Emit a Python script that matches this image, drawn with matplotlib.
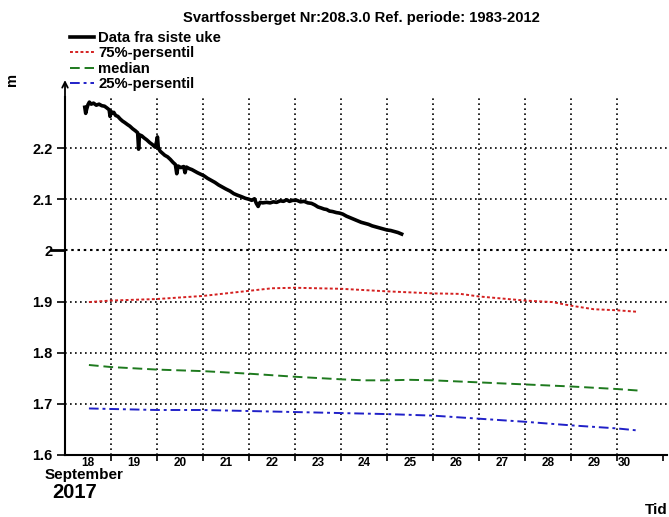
import matplotlib.pyplot as plt

plt.rcParams['font.family'] = ['Liberation Sans', 'DejaVu Sans']

# x = days since 18 September 2017 00:00
DAY_LABELS = ['18', '19', '20', '21', '22', '23', '24', '25', '26', '27', '28', '29', '30']
Y_TICKS = [1.6, 1.7, 1.8, 1.9, 2.0, 2.1, 2.2]

obs_x = [0.43, 0.45, 0.47, 0.50, 0.53, 0.57, 0.62, 0.68, 0.74, 0.80, 0.86, 0.92, 0.96, 0.98,
         1.00, 1.03, 1.06, 1.10, 1.15, 1.20, 1.25, 1.30, 1.36, 1.41, 1.47, 1.53, 1.58, 1.60,
         1.62, 1.67, 1.72, 1.78, 1.84, 1.90, 1.96, 1.99, 2.01, 2.03, 2.07, 2.12, 2.17, 2.23,
         2.29, 2.35, 2.40, 2.43, 2.46, 2.52, 2.58, 2.61, 2.64, 2.70, 2.76, 2.82, 2.88, 2.95,
         3.02, 3.10, 3.18, 3.26, 3.34, 3.42, 3.50, 3.59, 3.67, 3.75, 3.84, 3.92, 4.00, 4.06,
         4.12, 4.16, 4.20, 4.24, 4.30, 4.38, 4.46, 4.53, 4.60, 4.68, 4.75, 4.82, 4.88, 4.95,
         5.04, 5.12, 5.20, 5.28, 5.36, 5.43, 5.50, 5.57, 5.63, 5.69, 5.75, 5.82, 5.90, 5.97,
         6.04, 6.12, 6.20, 6.28, 6.36, 6.44, 6.52, 6.60, 6.68, 6.76, 6.84, 6.92, 7.00, 7.08,
         7.16, 7.24, 7.32]
obs_y = [2.280, 2.268, 2.276, 2.285, 2.290, 2.286, 2.288, 2.284, 2.286, 2.283, 2.282, 2.278,
         2.275, 2.262, 2.272, 2.268, 2.270, 2.264, 2.262, 2.257, 2.253, 2.250, 2.246, 2.243,
         2.238, 2.234, 2.230, 2.198, 2.226, 2.224, 2.220, 2.216, 2.211, 2.207, 2.202, 2.212,
         2.222, 2.200, 2.194, 2.190, 2.186, 2.183, 2.178, 2.172, 2.168, 2.150, 2.165, 2.162,
         2.164, 2.152, 2.163, 2.160, 2.158, 2.155, 2.152, 2.149, 2.146, 2.141, 2.137, 2.133,
         2.128, 2.124, 2.120, 2.116, 2.111, 2.108, 2.105, 2.102, 2.100, 2.098, 2.101, 2.092,
         2.086, 2.094, 2.093, 2.094, 2.093, 2.095, 2.094, 2.097, 2.096, 2.099, 2.096, 2.098,
         2.098, 2.095, 2.096, 2.093, 2.092, 2.089, 2.085, 2.083, 2.081, 2.080, 2.077, 2.076,
         2.074, 2.073, 2.071, 2.067, 2.064, 2.061, 2.058, 2.055, 2.053, 2.051, 2.048, 2.046,
         2.044, 2.042, 2.040, 2.039, 2.037, 2.035, 2.032]

p75_x = [0.52, 1.0, 2.0, 3.0, 4.0, 4.5, 5.0, 6.0, 7.0, 8.0, 8.6, 9.0, 10.0, 10.6, 11.0, 11.5, 12.0, 12.45]
p75_y = [1.899, 1.902, 1.905, 1.911, 1.921, 1.926, 1.927, 1.925, 1.920, 1.916, 1.915, 1.910,
         1.902, 1.899, 1.892, 1.885, 1.883, 1.880]

med_x = [0.52, 1.0, 2.0, 3.0, 4.0, 5.0, 6.0, 6.5, 7.0, 7.5, 8.0, 8.5, 9.0, 10.0, 11.0, 12.0, 12.47]
med_y = [1.776, 1.772, 1.767, 1.764, 1.759, 1.753, 1.748, 1.746, 1.746, 1.747, 1.746, 1.744,
         1.742, 1.738, 1.734, 1.729, 1.726]

p25_x = [0.52, 1.0, 2.0, 3.0, 4.0, 5.0, 6.0, 7.0, 8.0, 9.0, 10.0, 11.0, 12.0, 12.45]
p25_y = [1.691, 1.690, 1.688, 1.688, 1.686, 1.684, 1.682, 1.680, 1.677, 1.671, 1.665, 1.658,
         1.652, 1.648]

fig = plt.figure(figsize=(6.69, 5.17), dpi=100)
ax = fig.add_axes([65 / 669, 62 / 517, 602 / 669, 358 / 517])

ax.plot(obs_x, obs_y, color='black', lw=2.6, label='Data fra siste uke')
ax.plot(p75_x, p75_y, color='#d42020', lw=1.4, ls=(0, (1.5, 1.2)), label='75%-persentil')
ax.plot(med_x, med_y, color='#1e7a1e', lw=1.4, ls=(0, (5, 2.5)), label='median')
ax.plot(p25_x, p25_y, color='#2020c8', lw=1.4, ls=(0, (5, 2, 1.5, 2)), label='25%-persentil')

ax.set_xlim(0, 13.09)
ax.set_ylim(1.6, 2.30)

# grid
for d in range(1, 13):
    ax.axvline(d, color='black', lw=1.2, ls=(0, (1, 2)), zorder=0)
for v in Y_TICKS[1:]:
    if v == 2.0:
        ax.axhline(v, color='black', lw=1.5, ls=(0, (1.2, 1.8)), zorder=0)
    else:
        ax.axhline(v, color='black', lw=1.2, ls=(0, (1, 2)), zorder=0)

ax.set_yticks(Y_TICKS)
ax.set_yticklabels(['1.6', '1.7', '1.8', '1.9', '2', '2.1', '2.2'], fontsize=10.5, fontweight='bold')
ax.tick_params(axis='y', length=6, width=1.2, pad=3)
ax.get_yticklines()[8].set_markersize(11)
ax.get_yticklines()[8].set_markeredgewidth(2)

ax.set_xticks(range(1, 14))
ax.set_xticklabels([])
ax.tick_params(axis='x', length=4, width=1.2)
label_pos = [i + 0.5 for i in range(12)] + [12.17]
for p, lab in zip(label_pos, DAY_LABELS):
    ax.text(p, -0.022, lab, transform=ax.get_xaxis_transform(), ha='center', va='center',
            fontsize=8.5, fontweight='bold')

for s in ['top', 'right']:
    ax.spines[s].set_visible(False)
for s in ['left', 'bottom']:
    ax.spines[s].set_linewidth(1.5)

ax.annotate('', xy=(0, 1.055), xytext=(0, 0.99), xycoords='axes fraction',
            arrowprops=dict(arrowstyle='->', color='black', lw=1.3))

fig.text(361 / 669, 1 - 18 / 517, 'Svartfossberget Nr:208.3.0 Ref. periode: 1983-2012',
         ha='center', va='center', fontsize=10.6, fontweight='bold')
fig.text(12 / 669, 1 - 80 / 517, 'm', rotation=90, ha='center', va='center',
         fontsize=10.5, fontweight='bold')
fig.text(84 / 669, 1 - 475 / 517, 'September', ha='center', va='center',
         fontsize=11, fontweight='bold')
fig.text(75 / 669, 1 - 493 / 517, '2017', ha='center', va='center',
         fontsize=14.5, fontweight='bold')
fig.text(656 / 669, 1 - 510 / 517, 'Tid', ha='center', va='center',
         fontsize=11, fontweight='bold')

ax.legend(loc='upper left', bbox_to_anchor=(70 / 669, 1 - 31 / 517),
          bbox_transform=fig.transFigure, frameon=False, handlelength=1.6,
          handletextpad=0.3, labelspacing=0.1, borderpad=0, borderaxespad=0,
          prop={'size': 10.7, 'weight': 'bold'})

fig.savefig('out.png', dpi=100)
